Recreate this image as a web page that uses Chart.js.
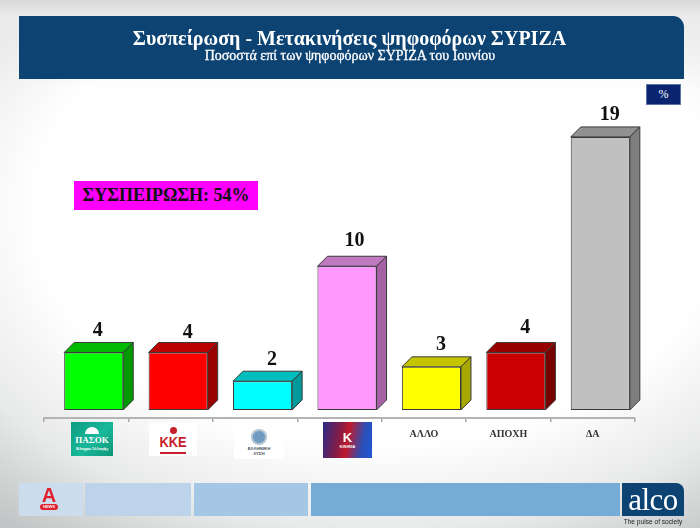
<!DOCTYPE html>
<html lang="el">
<head>
<meta charset="utf-8">
<title>Συσπείρωση - Μετακινήσεις ψηφοφόρων ΣΥΡΙΖΑ</title>
<script src="https://cdn.jsdelivr.net/npm/chart.js@4"></script>
<style>
  html, body { margin: 0; padding: 0; }
  body {
    width: 700px; height: 528px; position: relative; overflow: hidden;
    font-family: "Liberation Serif", serif;
    background:
      linear-gradient(to bottom, #d6d7d8 0, #ebebeb 16px, rgba(255,255,255,0) 90px),
      radial-gradient(ellipse 590px 400px at 54% 40%, #ffffff 58%, #e8e9e9 80%, #c2c4c5 100%);
  }
  canvas { position: absolute; left: 0; top: 0; }
  .box { position: absolute; box-sizing: border-box; }
  #header {
    left: 19px; top: 16px; width: 665px; height: 63px; background: #0d4373;
    border-top-right-radius: 11px; color: #fff; text-align: center;
  }
  #title { position: absolute; left: -4px; right: 0; top: 10px; font-size: 20px; font-weight: bold; line-height: 24px; }
  #subtitle { position: absolute; left: -3px; right: 0; top: 32px; font-size: 14px; line-height: 16px; -webkit-text-stroke: 0.3px #fff; }
  #unit {
    left: 646px; top: 84px; width: 35px; height: 21px; background: #0b2470;
    border: 1px solid #5d74a8; color: #fff; font-size: 12px; line-height: 19px; text-align: center;
  }
  #cohesion {
    left: 74px; top: 181px; width: 184px; height: 29px; background: #ff00ff; color: #111;
    font-size: 18px; font-weight: bold; line-height: 29px; text-align: center;
  }
  .logo { overflow: hidden; text-align: center; font-family: "Liberation Sans", sans-serif; }
  #pasok {
    left: 71px; top: 422px; width: 42px; height: 34px; color: #fff;
    background: linear-gradient(135deg, #0f9c80, #19b89a 55%, #0f9478);
    font-family: "Liberation Serif", serif; font-weight: bold; font-size: 9px; line-height: 9px; padding-top: 14px;
  }
  #pasok small { display: block; font-size: 4.5px; line-height: 7px; }
  #pasok i { position: absolute; left: 14px; top: 5px; width: 14px; height: 7px; background: #fff; border-radius: 7px 7px 0 0; }
  #kke { left: 149px; top: 423px; width: 48px; height: 33px; background: #fff; color: #c8202b; font-weight: bold; }
  #kke span { position: absolute; left: 0; right: 0; top: 12px; font-size: 14px; line-height: 15px; transform: scaleX(0.92); }
  #kke i { position: absolute; left: 21px; top: 4px; width: 7px; height: 7px; background: #c8202b; border-radius: 50%; }
  #kke b { position: absolute; left: 11px; top: 29px; width: 26px; height: 2px; background: #c8202b; }
  #lysi { left: 234px; top: 422px; width: 50px; height: 37px; background: #fff; color: #44505a; font-size: 4.4px; line-height: 5px; padding-top: 24px; font-weight: bold; }
  #lysi i { position: absolute; left: 17px; top: 7px; width: 16px; height: 16px; border-radius: 50%; background: radial-gradient(circle, #6f9cc0 0 50%, #b9c8d2 55%, #8fa7b8 100%); }
  #kinima { left: 323px; top: 422px; width: 49px; height: 36px; color: #fff; font-size: 4px; background: linear-gradient(100deg, #2b2a86 0%, #8a1c44 35%, #c01a2b 50%, #2d4fb5 78%, #1d58d6 100%); font-weight: bold; }
  #kinima b { display: block; font-size: 13px; line-height: 13px; margin-top: 9px; }
  .foot { top: 483px; height: 33px; }
  #f1 { left: 19px; width: 64px; background: #cbdcec; }
  #f2 { left: 85px; width: 106px; background: #bcd3ea; }
  #f3 { left: 194px; width: 114px; background: #a3c7e4; }
  #f4 { left: 311px; width: 309px; background: #75acd6; }
  #alco {
    left: 622px; width: 62px; background: #0d4373; border-top-right-radius: 8px; color: #fff;
    font-size: 31px; line-height: 33px; text-align: center; letter-spacing: -0.5px;
  }
  #alpha { left: 40px; top: 486px; width: 18px; color: #e0202c; font-family: "Liberation Sans", sans-serif; font-weight: bold; font-size: 20px; line-height: 18px; text-align: center; }
  #alpha span { display: block; background: #e0202c; color: #fff; font-size: 4px; line-height: 6px; border-radius: 3px; margin-top: 0; }
  #pulse { left: 622px; top: 517px; width: 62px; color: #222; font-family: "Liberation Sans", sans-serif; font-size: 6.6px; line-height: 9px; text-align: center; }
</style>
</head>
<body>
<canvas id="chartCanvas" width="700" height="528"></canvas>

<div class="box" id="header">
  <div id="title">Συσπείρωση - Μετακινήσεις ψηφοφόρων ΣΥΡΙΖΑ</div>
  <div id="subtitle">Ποσοστά επί των ψηφοφόρων ΣΥΡΙΖΑ του Ιουνίου</div>
</div>
<div class="box" id="unit">%</div>
<div class="box" id="cohesion">ΣΥΣΠΕΙΡΩΣΗ: 54%</div>

<div class="box logo" id="pasok"><i></i>ΠΑΣΟΚ<small>Κίνημα Αλλαγής</small></div>
<div class="box logo" id="kke"><i></i><span>KKE</span><b></b></div>
<div class="box logo" id="lysi"><i></i>ΕΛΛΗΝΙΚΗ<br>ΛΥΣΗ</div>
<div class="box logo" id="kinima"><b>K</b>ΚΙΝΗΜΑ</div>

<div class="box foot" id="f1"></div>
<div class="box foot" id="f2"></div>
<div class="box foot" id="f3"></div>
<div class="box foot" id="f4"></div>
<div class="box foot" id="alco">alco</div>
<div class="box" id="alpha">A<span>NEWS</span></div>
<div class="box" id="pulse">The pulse of society</div>

<script>
const categories = ['ΠΑΣΟΚ', 'ΚΚΕ', 'ΕΛΛΗΝΙΚΗ ΛΥΣΗ', 'ΚΙΝΗΜΑ ΔΗΜΟΚΡΑΤΙΑΣ', 'ΑΛΛΟ', 'ΑΠΟΧΗ', 'ΔΑ'];
const values = [4, 4, 2, 10, 3, 4, 19];
// parties that show a logo instead of a text label
const logoCategories = ['ΠΑΣΟΚ', 'ΚΚΕ', 'ΕΛΛΗΝΙΚΗ ΛΥΣΗ', 'ΚΙΝΗΜΑ ΔΗΜΟΚΡΑΤΙΑΣ'];

const frontColors = ['#00ff00', '#ff0000', '#00ffff', '#ff99ff', '#ffff00', '#cc0000', '#c0c0c0'];
const topColors = ['#00bb00', '#bb0000', '#00bebe', '#c078c0', '#c4c400', '#990000', '#919191'];
const sideColors = ['#009a00', '#990000', '#009a9a', '#a660a6', '#a8a800', '#770000', '#7e7e7e'];

const BAR_SHIFT = 7.5;   // bars sit right of the category centre
const DEPTH = 10;
// the value labels were placed by hand in the original, so they are not quite even
const labelNudgeX = [-5.5, 0, 0, -2, 0, 0, 0];
const labelNudgeY = [0, 2, 1, -3, 0, -3, 0];

// draws the top and side faces, the front face is the normal bar
const boxBars = {
  id: 'boxBars',
  beforeDatasetDraw(chart) {
    const ctx = chart.ctx;
    ctx.save();
    ctx.translate(BAR_SHIFT, 0);
    ctx.strokeStyle = '#3a3a3a';
    ctx.lineWidth = 1;
    ctx.lineJoin = 'round';
    chart.getDatasetMeta(0).data.forEach((bar, i) => {
      const left = bar.x - bar.width / 2;
      const right = bar.x + bar.width / 2;
      ctx.fillStyle = topColors[i];
      ctx.beginPath();
      ctx.moveTo(left, bar.y);
      ctx.lineTo(left + DEPTH, bar.y - DEPTH);
      ctx.lineTo(right + DEPTH, bar.y - DEPTH);
      ctx.lineTo(right, bar.y);
      ctx.closePath();
      ctx.fill();
      ctx.stroke();
      ctx.fillStyle = sideColors[i];
      ctx.beginPath();
      ctx.moveTo(right, bar.y);
      ctx.lineTo(right + DEPTH, bar.y - DEPTH);
      ctx.lineTo(right + DEPTH, bar.base - DEPTH);
      ctx.lineTo(right, bar.base);
      ctx.closePath();
      ctx.fill();
      ctx.stroke();
    });
  },
  afterDatasetDraw(chart) {
    const ctx = chart.ctx;
    ctx.restore();
    ctx.save();
    ctx.fillStyle = '#111';
    ctx.font = 'bold 20px "Liberation Serif", serif';
    ctx.textAlign = 'center';
    ctx.textBaseline = 'middle';
    chart.getDatasetMeta(0).data.forEach((bar, i) => {
      ctx.fillText(values[i], bar.x + BAR_SHIFT + 9.5 + labelNudgeX[i], bar.y - 22 + labelNudgeY[i]);
    });
    ctx.restore();
  }
};

new Chart(document.getElementById('chartCanvas').getContext('2d'), {
  type: 'bar',
  data: {
    labels: categories,
    datasets: [{
      data: values,
      backgroundColor: frontColors,
      borderColor: '#3a3a3a',
      borderWidth: 1,
      borderSkipped: false,
      categoryPercentage: 1,
      barPercentage: 0.7,
      clip: false
    }]
  },
  options: {
    responsive: false,
    animation: false,
    devicePixelRatio: 1,
    layout: { padding: { left: 44, right: 65, top: 100, bottom: 80 } },
    plugins: { legend: { display: false }, title: { display: false }, tooltip: { enabled: false } },
    scales: {
      x: {
        afterFit: scale => { scale.height = 30; },
        border: { color: '#b4b4b4', width: 2 },
        grid: { drawOnChartArea: false, color: '#aaaaaa', tickLength: 4, lineWidth: 1.5 },
        ticks: {
          color: '#333',
          padding: 6,
          maxRotation: 0,
          autoSkip: false,
          font: { family: '"Liberation Serif", serif', size: 10, weight: 'bold' },
          callback(value) {
            const name = this.getLabelForValue(value);
            return logoCategories.includes(name) ? '' : name;
          }
        }
      },
      // 0 sits above the floor line, so the range starts below 0
      y: { display: false, min: -0.56, max: 21.57 }
    }
  },
  plugins: [boxBars]
});
</script>
</body>
</html>
